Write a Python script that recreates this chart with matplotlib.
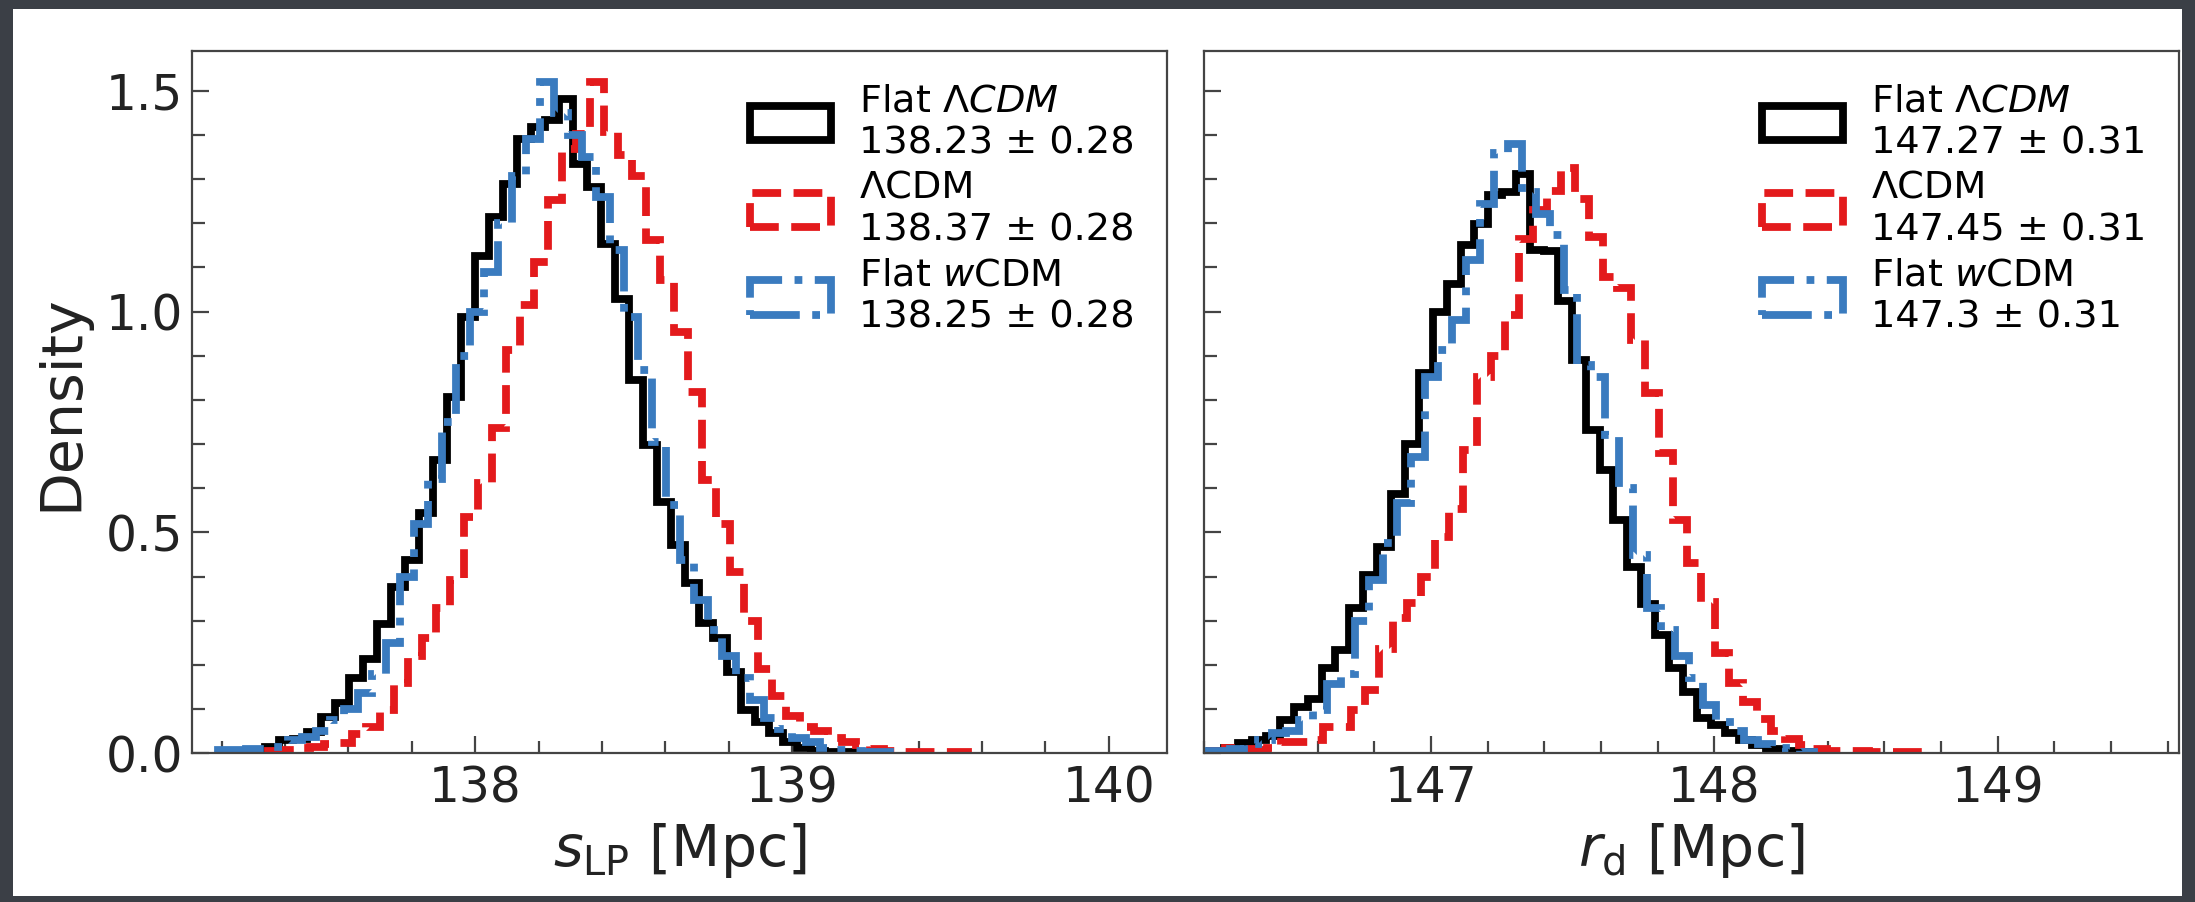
import numpy as np
import matplotlib
matplotlib.use("Agg")
import matplotlib.pyplot as plt
from matplotlib.patches import Rectangle
from matplotlib.ticker import MultipleLocator, FormatStrFormatter

# ---------------- data (bin start, bin width, densities) ----------------
# left panel: s_LP [Mpc]
slp_flat_lcdm_lo, slp_flat_lcdm_w = 137.2476, 0.04421
slp_flat_lcdm = [0.003, 0.005, 0.015, 0.03, 0.032, 0.049, 0.083, 0.114, 0.17, 0.213,
                 0.293, 0.377, 0.437, 0.543, 0.665, 0.807, 0.988, 1.127, 1.214, 1.29,
                 1.391, 1.418, 1.433, 1.482, 1.335, 1.282, 1.154, 1.029, 0.845, 0.698,
                 0.569, 0.471, 0.385, 0.294, 0.26, 0.185, 0.098, 0.07, 0.045, 0.025,
                 0.012, 0.005, 0.004, 0.002]
slp_lcdm_lo, slp_lcdm_w = 137.3464, 0.04421
slp_lcdm = [0.005, 0.008, 0.012, 0.015, 0.02, 0.023, 0.043, 0.06, 0.098, 0.16,
            0.22, 0.26, 0.328, 0.392, 0.535, 0.611, 0.737, 0.912, 1.014, 1.112,
            1.252, 1.369, 1.403, 1.519, 1.406, 1.354, 1.308, 1.161, 1.071, 0.954,
            0.818, 0.618, 0.52, 0.411, 0.30, 0.19, 0.13, 0.085, 0.06, 0.05,
            0.035, 0.025, 0.018, 0.01, 0.006, 0.004, 0.003, 0.003, 0.002, 0.002]
slp_flat_wcdm_lo, slp_flat_wcdm_w = 137.1885, 0.04421
slp_flat_wcdm = [0.007, 0.007, 0.01, 0.01, 0.015, 0.03, 0.037, 0.05, 0.075, 0.1,
                 0.136, 0.18, 0.25, 0.40, 0.52, 0.62, 0.75, 0.90, 1.0, 1.09,
                 1.2, 1.308, 1.391, 1.519, 1.45, 1.40, 1.35, 1.259, 1.139, 0.988,
                 0.867, 0.705, 0.562, 0.437, 0.347, 0.28, 0.22, 0.17, 0.12, 0.08,
                 0.055, 0.035, 0.025, 0.012, 0.008, 0.005, 0.003, 0.002]

# right panel: r_d [Mpc]
rd_flat_lcdm_lo, rd_flat_lcdm_w = 146.2213, 0.04906
rd_flat_lcdm = [0.005, 0.011, 0.024, 0.03, 0.04, 0.075, 0.105, 0.124, 0.192, 0.234,
                0.328, 0.403, 0.467, 0.586, 0.701, 0.86, 0.999, 1.063, 1.15, 1.199,
                1.263, 1.27, 1.312, 1.14, 1.138, 1.025, 0.89, 0.731, 0.641, 0.528,
                0.422, 0.339, 0.268, 0.192, 0.139, 0.079, 0.064, 0.045, 0.03, 0.018,
                0.01, 0.006, 0.004, 0.002]
rd_lcdm_lo, rd_lcdm_w = 146.2234, 0.04942
rd_lcdm = [0.005, 0.012, 0.01, 0.008, 0.012, 0.026, 0.026, 0.03, 0.059, 0.06,
           0.098, 0.143, 0.236, 0.306, 0.34, 0.40, 0.49, 0.553, 0.686, 0.852,
           0.9, 0.992, 1.165, 1.229, 1.274, 1.324, 1.256, 1.169, 1.078, 1.053,
           0.935, 0.815, 0.679, 0.528, 0.43, 0.343, 0.227, 0.16, 0.116, 0.077,
           0.05, 0.032, 0.019, 0.01, 0.006, 0.005, 0.005, 0.004, 0.004, 0.003, 0.003]
rd_flat_wcdm_lo, rd_flat_wcdm_w = 146.1924, 0.04906
rd_flat_wcdm = [0.005, 0.006, 0.01, 0.022, 0.03, 0.045, 0.05, 0.075, 0.098, 0.158,
                0.18, 0.3, 0.392, 0.475, 0.566, 0.671, 0.852, 0.912, 0.98, 1.116,
                1.244, 1.36, 1.38, 1.27, 1.22, 1.173, 1.05, 0.879, 0.852, 0.72,
                0.6, 0.45, 0.33, 0.28, 0.22, 0.17, 0.11, 0.07, 0.05, 0.03,
                0.02, 0.012, 0.007, 0.004]

labels_left = ["Flat $\\Lambda CDM$\n138.23 ± 0.28",
               "ΛCDM\n138.37 ± 0.28",
               "Flat $w$CDM\n138.25 ± 0.28"]
labels_right = ["Flat $\\Lambda CDM$\n147.27 ± 0.31",
                "ΛCDM\n147.45 ± 0.31",
                "Flat $w$CDM\n147.3 ± 0.31"]
xlabel_left = "$s_{\\rm LP}$ [Mpc]"
xlabel_right = "$r_{\\rm d}$ [Mpc]"
ylabel = "Density"

colors = ["black", "#e31a1c", "#3a7bbf"]
styles = ["-", "--", "-."]

# ---------------- figure ----------------
W, H = 2195, 902
fig = plt.figure(figsize=(W / 100, H / 100), dpi=100, facecolor="#3b3f46")
fig.add_artist(Rectangle((13 / W, 1 - 896 / H), (2182 - 13) / W, (896 - 9) / H,
                         transform=fig.transFigure, facecolor="white",
                         edgecolor="none", zorder=-10))

ax1 = fig.add_axes([191.7 / W, 1 - 753.3 / H, 975.6 / W, 702.3 / H])
ax2 = fig.add_axes([1204.3 / W, 1 - 753.3 / H, 974.7 / W, 702.3 / H], sharey=ax1)


def draw(ax, series, labels):
    for (lo, w, h), c, ls, lab in zip(series, colors, styles, labels):
        h = np.asarray(h)
        edges = lo + w * np.arange(len(h) + 1)
        centers = 0.5 * (edges[:-1] + edges[1:])
        ax.hist(centers, bins=edges, weights=h, histtype="step", color=c,
                linewidth=5.6, linestyle=ls, label=lab)
    ax.legend(loc="upper right", frameon=False, fontsize=27.5, handlelength=2.1,
              handleheight=1.0, handletextpad=0.75, labelspacing=0.25,
              borderaxespad=0.45)


draw(ax1, [(slp_flat_lcdm_lo, slp_flat_lcdm_w, slp_flat_lcdm),
           (slp_lcdm_lo, slp_lcdm_w, slp_lcdm),
           (slp_flat_wcdm_lo, slp_flat_wcdm_w, slp_flat_wcdm)], labels_left)
draw(ax2, [(rd_flat_lcdm_lo, rd_flat_lcdm_w, rd_flat_lcdm),
           (rd_lcdm_lo, rd_lcdm_w, rd_lcdm),
           (rd_flat_wcdm_lo, rd_flat_wcdm_w, rd_flat_wcdm)], labels_right)

ax1.set_xlim(137.105, 140.185)
ax2.set_xlim(146.2, 149.64)
ax1.set_ylim(0, 1.59)

for ax in (ax1, ax2):
    ax.xaxis.set_major_locator(MultipleLocator(1))
    ax.xaxis.set_minor_locator(MultipleLocator(0.2))
    ax.yaxis.set_major_locator(MultipleLocator(0.5))
    ax.yaxis.set_minor_locator(MultipleLocator(0.1))
    ax.tick_params(which="major", direction="in", length=12.5, width=1.6,
                   labelsize=35, labelcolor="#222222", color="#444444",
                   top=False, right=False)
    ax.tick_params(axis="x", which="major", pad=8)
    ax.tick_params(axis="y", which="major", pad=6)
    ax.tick_params(which="minor", direction="in", length=9, width=1.6,
                   color="#444444", top=False, right=False)
    for sp in ax.spines.values():
        sp.set_linewidth(1.6)
        sp.set_color("#444444")

ax1.yaxis.set_major_formatter(FormatStrFormatter("%.1f"))
ax2.tick_params(labelleft=False)
ax1.set_xlabel(xlabel_left, fontsize=41, color="#222222", labelpad=6)
ax2.set_xlabel(xlabel_right, fontsize=41, color="#222222", labelpad=6)
ax1.set_ylabel(ylabel, fontsize=41, color="#222222", labelpad=12)

fig.savefig("out.png", dpi=100, facecolor=fig.get_facecolor())
